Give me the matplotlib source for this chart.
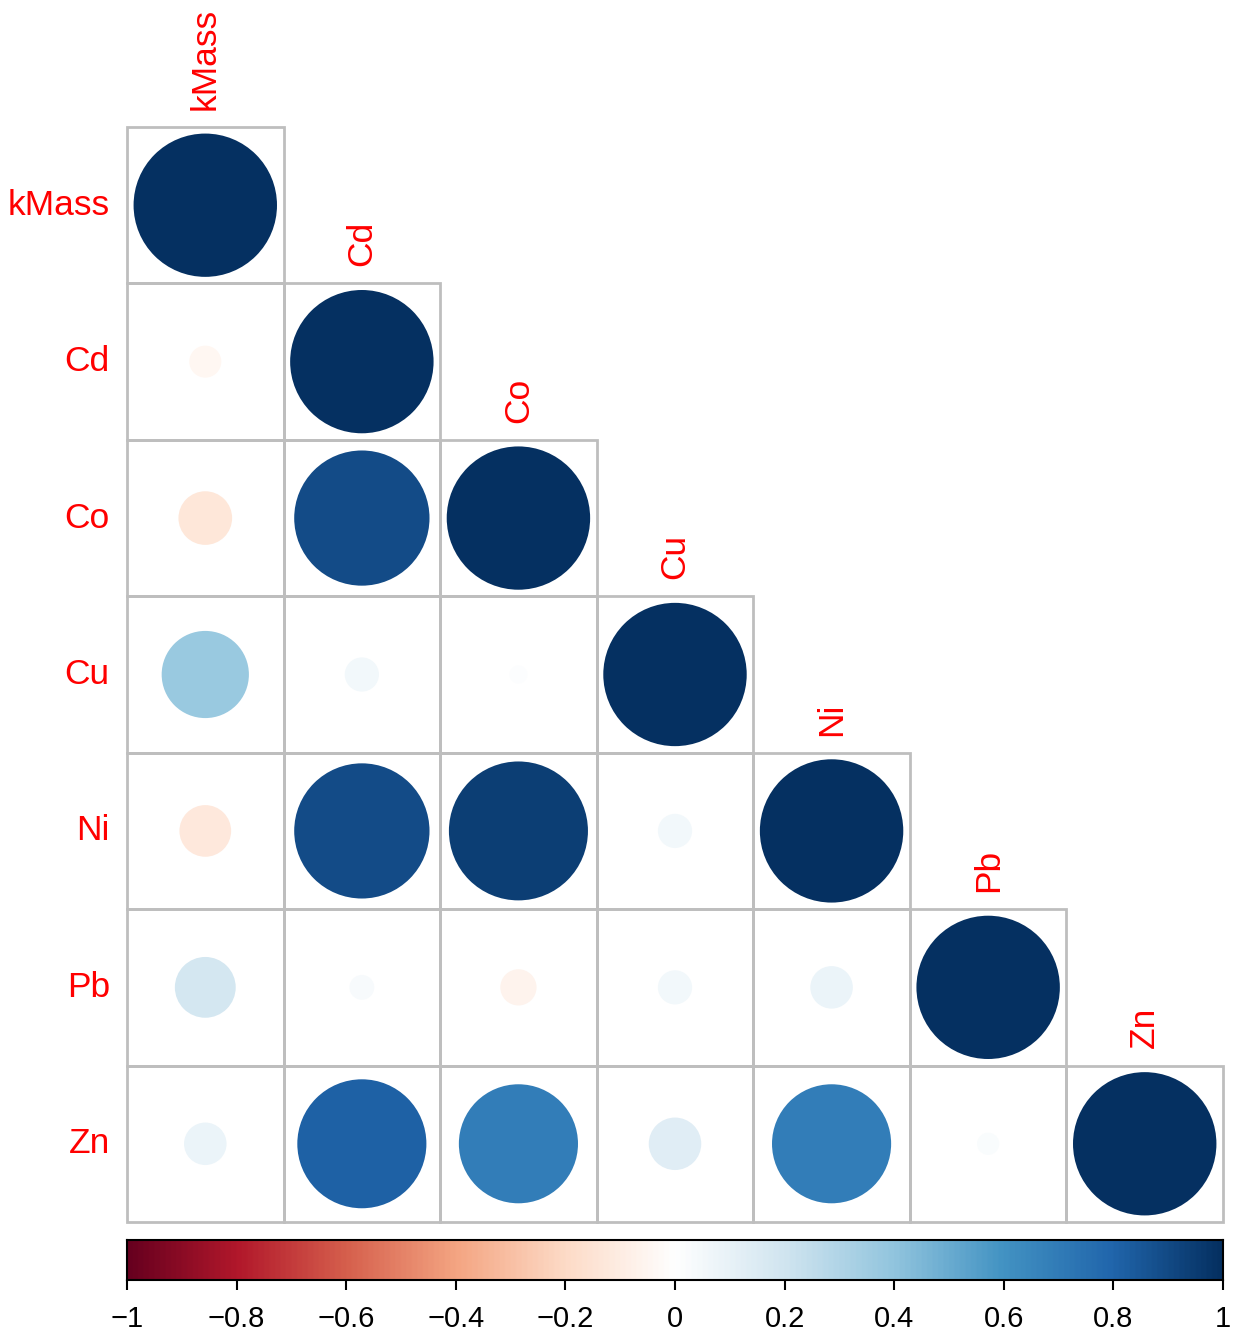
import numpy as np
import matplotlib
matplotlib.use("Agg")
import matplotlib.pyplot as plt
from matplotlib.colors import LinearSegmentedColormap
from matplotlib.patches import Circle, Rectangle

labels = ["kMass", "Cd", "Co", "Cu", "Ni", "Pb", "Zn"]
# lower-triangle correlations, row by row (including diagonal)
row_kMass = [1.0]
row_Cd = [-0.05, 1.0]
row_Co = [-0.14, 0.89, 1.0]
row_Cu = [0.37, 0.057, 0.016, 1.0]
row_Ni = [-0.13, 0.89, 0.94, 0.057, 1.0]
row_Pb = [0.18, 0.03, -0.064, 0.057, 0.088, 1.0]
row_Zn = [0.088, 0.81, 0.69, 0.134, 0.69, 0.024, 1.0]
rows = [row_kMass, row_Cd, row_Co, row_Cu, row_Ni, row_Pb, row_Zn]

cbar_ticks = [-1, -0.8, -0.6, -0.4, -0.2, 0, 0.2, 0.4, 0.6, 0.8, 1]

cols = ["#67001F", "#B2182B", "#D6604D", "#F4A582", "#FDDBC7", "#FFFFFF",
        "#D1E5F0", "#92C5DE", "#4393C3", "#2166AC", "#053061"]
cmap = LinearSegmentedColormap.from_list("corr", cols, N=200)

plt.rcParams['font.family'] = ['Liberation Sans', 'DejaVu Sans']

W, H = 1239, 1332
fig = plt.figure(figsize=(W / 100, H / 100), dpi=100)

x0, x1 = 127, 1223
y0, y1 = 127, 1222
ax = fig.add_axes([x0 / W, 1 - y1 / H, (x1 - x0) / W, (y1 - y0) / H])
n = len(labels)
ax.set_xlim(0, n)
ax.set_ylim(n, 0)
ax.axis("off")

grid_col = "#BEBEBE"
for i, row in enumerate(rows):
    for j, v in enumerate(row):
        ax.add_patch(Rectangle((j, i), 1, 1, fill=False, edgecolor=grid_col,
                               linewidth=2, zorder=1, clip_on=False))
        r = 0.458 * np.sqrt(abs(v))
        ax.add_patch(Circle((j + 0.5, i + 0.5), r, facecolor=cmap((v + 1) / 2),
                            edgecolor="none", zorder=2))

# labels
for i, lab in enumerate(labels):
    ax.text(-0.11, i + 0.5, lab, ha="right", va="center", color="red",
            fontsize=25.5)
    ax.text(i + 0.5, i - 0.11, lab, ha="center", va="bottom", color="red",
            fontsize=25.5, rotation=90)

# colorbar
cax = fig.add_axes([x0 / W, 1 - 1280 / H, (x1 - x0) / W, 40 / H])
grad = np.linspace(-1, 1, 400).reshape(1, -1)
cax.imshow(grad, aspect="auto", cmap=cmap, vmin=-1, vmax=1,
           extent=[-1, 1, 0, 1])
cax.set_xlim(-1, 1)
cax.set_ylim(0, 1)
cax.set_yticks([])
cax.set_xticks(cbar_ticks)
cax.set_xticklabels([("\u2212" if t < 0 else "") + (f"{abs(t):g}") for t in cbar_ticks],
                    fontsize=21)
cax.tick_params(axis="x", length=7, width=1.5, pad=11)
for s in cax.spines.values():
    s.set_linewidth(1.5)

fig.savefig("out.png", dpi=100)
